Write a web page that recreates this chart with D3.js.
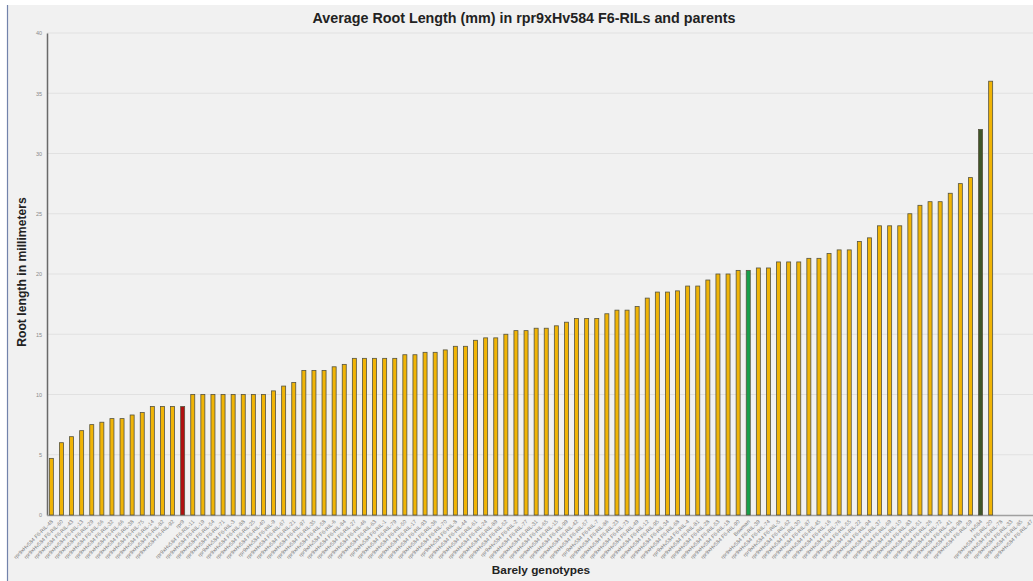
<!DOCTYPE html>
<html>
<head>
<meta charset="utf-8">
<script src="https://cdn.jsdelivr.net/npm/d3@7"></script>
<style>
  html, body { margin: 0; padding: 0; background: #ffffff; }
  svg { display: block; font-family: "Liberation Sans", Arial, sans-serif; }
</style>
</head>
<body>
<svg id="chart" width="1033" height="581"></svg>
<script>
// Genotype names along the x axis (RILs sorted by root length, parents inserted in place)
const ril = n => `rpr9xHv584 F6-RIL-${n}`;
const genotypes = [
  ril(48), ril(60), ril(43), ril(13), ril(29), ril(56), ril(32), ril(66), ril(38), ril(75),
  ril(14), ril(82), ril(92), "rpr9",
  ril(11), ril(19), ril(54), ril(71), ril(3), ril(88), ril(25), ril(40), ril(9), ril(67),
  ril(21), ril(97), ril(35), ril(58), ril(6), ril(84), ril(27), ril(46), ril(63), ril(1),
  ril(79), ril(50), ril(17), ril(93), ril(36), ril(70), ril(8), ril(44), ril(61), ril(24),
  ril(89), ril(52), ril(2), ril(77), ril(31), ril(65), ril(15), ril(99), ril(42), ril(57),
  ril(7), ril(86), ril(23), ril(73), ril(49), ril(12), ril(95), ril(34), ril(68), ril(4),
  ril(81), ril(28), ril(53), ril(18), ril(90), "Bowman",
  ril(39), ril(74), ril(5), ril(62), ril(30), ril(87), ril(45), ril(16), ril(76), ril(55),
  ril(22), ril(94), ril(37), ril(69), ril(10), ril(83), ril(51), ril(26), ril(72), ril(41),
  ril(98), ril(59), "Hv584", ril(20),
  ril(78), ril(33), ril(85), ril(47)
];

// Average root length (mm); the last four genotypes have no measurement
const rootLength = [
  4.7, 6.0, 6.5, 7.0, 7.5, 7.7, 8.0, 8.0, 8.3, 8.5,
  9.0, 9.0, 9.0, 9.0,
  10.0, 10.0, 10.0, 10.0, 10.0, 10.0, 10.0, 10.0, 10.3, 10.7,
  11.0, 12.0, 12.0, 12.0, 12.3, 12.5, 13.0, 13.0, 13.0, 13.0,
  13.0, 13.3, 13.3, 13.5, 13.5, 13.7, 14.0, 14.0, 14.5, 14.7,
  14.7, 15.0, 15.3, 15.3, 15.5, 15.5, 15.7, 16.0, 16.3, 16.3,
  16.3, 16.7, 17.0, 17.0, 17.3, 18.0, 18.5, 18.5, 18.6, 19.0,
  19.0, 19.5, 20.0, 20.0, 20.3, 20.3,
  20.5, 20.5, 21.0, 21.0, 21.0, 21.3, 21.3, 21.7, 22.0, 22.0,
  22.7, 23.0, 24.0, 24.0, 24.0, 25.0, 25.7, 26.0, 26.0, 26.7,
  27.5, 28.0, 32.0, 36.0,
  null, null, null, null
];

const yTicks = [0, 5, 10, 15, 20, 25, 30, 35, 40];

const titleText = "Average Root Length (mm) in rpr9xHv584 F6-RILs and parents";
const yTitle = "Root length in millimeters";
const xTitle = "Barely genotypes";

// Highlight colours for the parental / reference lines
const highlight = { "rpr9": "#b0100f", "Bowman": "#16a04a", "Hv584": "#3f5528" };
const barFill = "#f0b406";

const svg = d3.select("#chart");
const W = 1033, H = 581;

// panel background and left frame line
svg.append("rect").attr("x", 8).attr("y", 5).attr("width", W - 8).attr("height", H - 5).attr("fill", "#f1f1f1");
svg.append("line").attr("x1", 7.5).attr("x2", 7.5).attr("y1", 5).attr("y2", H)
  .attr("stroke", "#7283ab").attr("stroke-width", 1.2);

const x = d3.scaleBand().domain(genotypes).range([46.3, 46.3 + genotypes.length * 10.1]).padding(0);
const y = d3.scaleLinear().domain([0, 40]).range([515, 33]);

// horizontal grid lines
svg.append("g").selectAll("line").data(yTicks.filter(t => t > 0)).join("line")
  .attr("x1", 47).attr("x2", W).attr("y1", d => y(d)).attr("y2", d => y(d))
  .attr("stroke", "#e1e1e1").attr("stroke-width", 1);

// y axis
const yAxis = svg.append("g").attr("transform", "translate(47,0)")
  .call(d3.axisLeft(y).tickValues(yTicks).tickSize(0).tickPadding(5));
yAxis.select(".domain").attr("stroke", "#6a6a6a").attr("stroke-width", 1.5);
yAxis.selectAll("text").attr("font-size", 5.5).attr("fill", "#8a8a8a");

// x baseline
svg.append("line").attr("x1", 47).attr("x2", W).attr("y1", 515.5).attr("y2", 515.5)
  .attr("stroke", "#a0a0a0").attr("stroke-width", 1.5);

// x axis labels
const xAxis = svg.append("g").attr("transform", "translate(0,515)")
  .call(d3.axisBottom(x).tickSize(0).tickPadding(0));
xAxis.select(".domain").remove();
xAxis.selectAll("text")
  .attr("font-size", 5.3).attr("fill", "#7a7a7a")
  .attr("text-anchor", "end")
  .attr("dy", 0)
  .attr("transform", "translate(2,7) rotate(-45)");

// bars
const data = genotypes.map((g, i) => ({ g, v: rootLength[i] })).filter(d => d.v != null);
const bw = 4;
svg.append("g").selectAll("rect").data(data).join("rect")
  .attr("x", d => x(d.g) + x.bandwidth() / 2 - bw / 2)
  .attr("y", d => y(d.v))
  .attr("width", bw)
  .attr("height", d => y(0) - y(d.v))
  .attr("fill", d => highlight[d.g] || barFill)
  .attr("stroke", "#55533f")
  .attr("stroke-width", 0.8);

// titles
svg.append("text").attr("x", 524).attr("y", 23).attr("text-anchor", "middle")
  .attr("font-size", 14.3).attr("font-weight", "bold").attr("fill", "#222").text(titleText);
svg.append("text").attr("transform", "translate(26,272) rotate(-90)").attr("text-anchor", "middle")
  .attr("font-size", 12.2).attr("font-weight", "bold").attr("fill", "#222").text(yTitle);
svg.append("text").attr("x", 541).attr("y", 574).attr("text-anchor", "middle")
  .attr("font-size", 11.8).attr("font-weight", "bold").attr("fill", "#222").text(xTitle);
</script>
</body>
</html>
